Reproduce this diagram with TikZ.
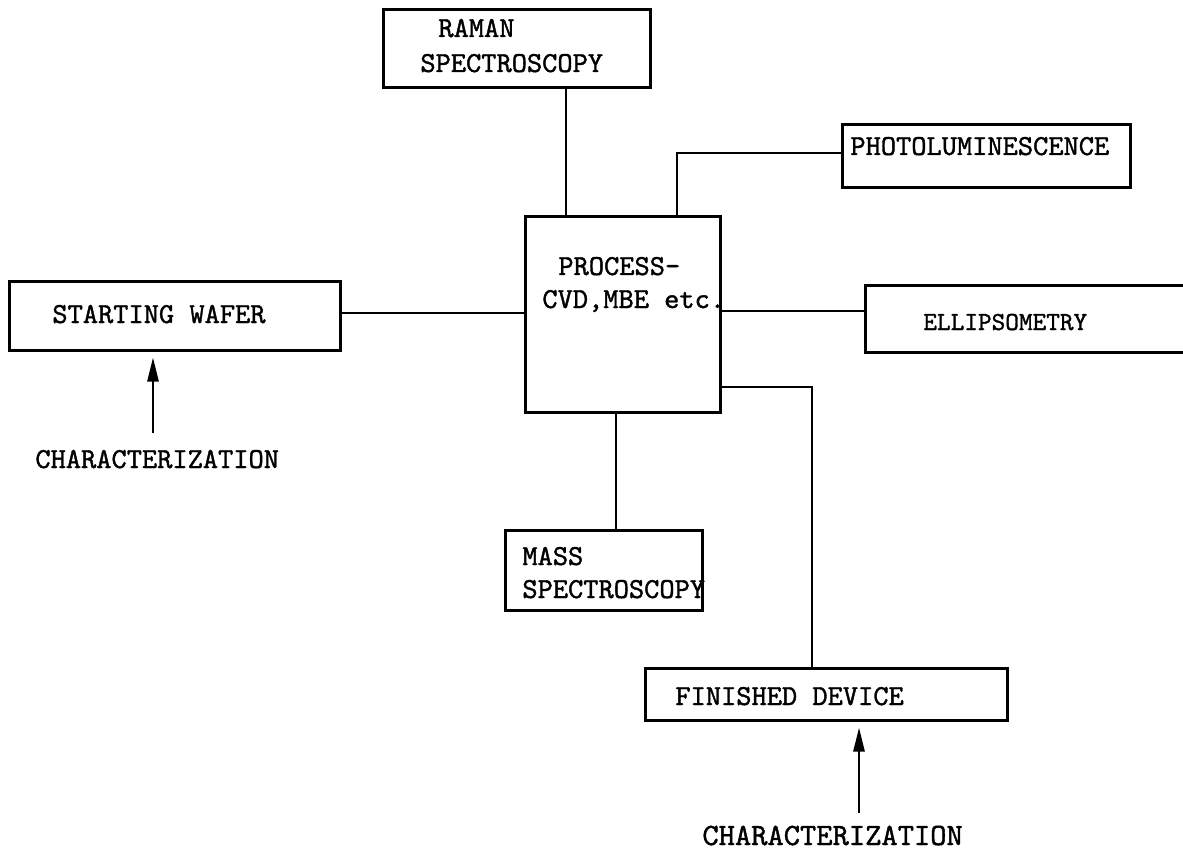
\documentclass[tikz,border=0pt]{standalone}
\usepackage{fontspec}
\newfontfamily\tw{lmmono10-regular}[Extension=.otf,FakeBold=1.3]
\usetikzlibrary{arrows.meta}
\begin{document}
\begin{tikzpicture}[x=0.5pt,y=-0.5pt,
  box/.style={draw,line width=1.5pt,inner sep=0pt},
  conn/.style={line width=1.1pt},
  lbl/.style={inner sep=0pt,anchor=base west,font=\tw\fontsize{14.5}{17}\selectfont},
  arr/.style={line width=1.3pt,-{Triangle[length=12pt,width=5.5pt]}}
]
\useasboundingbox (0,0) rectangle (1183,850);
% boxes
\node[box,minimum width=133.5pt,minimum height=39pt] (raman) at (516.5,49) {};
\node[box,minimum width=144pt,minimum height=31.5pt] (photo) at (986,156.5) {};
\node[box,minimum width=97.5pt,minimum height=97.5pt] (process) at (622.5,314.5) {};
\node[box,minimum width=165.5pt,minimum height=34pt] (wafer) at (174.5,316) {};
\node[box,minimum width=161.5pt,minimum height=33pt] (ellips) at (1026.5,319) {};
\node[box,minimum width=98.5pt,minimum height=40pt] (mass) at (603.5,570) {};
\node[box,minimum width=181pt,minimum height=26pt] (finished) at (826,694) {};
% labels
\node[lbl] (t1) at (438,37) {RAMAN};
\node[lbl] (t2) at (420,72) {SPECTROSCOPY};
\node[lbl] (t3) at (850,155) {PHOTOLUMINESCENCE};
\node[lbl] (t4) at (558,275) {PROCESS-};
\node[lbl] (t5) at (542,308) {CVD,MBE etc.};
\node[lbl] (t6) at (52,323) {STARTING WAFER};
\node[lbl,font=\tw\fontsize{13}{15}\selectfont] (t7) at (923,330) {ELLIPSOMETRY};
\node[lbl] (t8) at (522,565) {MASS};
\node[lbl] (t9) at (522,598) {SPECTROSCOPY};
\node[lbl] (t10) at (675,705) {FINISHED DEVICE};
\node[lbl] (char1) at (35,468) {CHARACTERIZATION};
\node[lbl,font=\tw\fontsize{15.5}{17}\selectfont] (char2) at (702,845) {CHARACTERIZATION};
% connectors
\coordinate (rx) at (566,0);
\draw[conn] (raman.south -| rx) -- (process.north -| rx);
\coordinate (px) at (677,153);
\draw[conn] (process.north -| px) -- (px) -- (photo.west |- px);
\coordinate (wy) at (0,313);
\draw[conn] (wafer.east |- wy) -- (process.west |- wy);
\coordinate (ey) at (0,311);
\draw[conn] (process.east |- ey) -- (ellips.west |- ey);
\coordinate (mx) at (616,0);
\draw[conn] (process.south -| mx) -- (mass.north -| mx);
\coordinate (fc) at (812,387);
\draw[conn] (process.east |- fc) -- (fc) -- (finished.north -| fc);
% characterization arrows
\coordinate (a1) at (153,433);
\draw[arr,shorten >=3pt] (a1) -- (wafer.south -| a1);
\coordinate (a2) at (859,813);
\draw[arr,shorten >=3pt] (a2) -- (finished.south -| a2);
\end{tikzpicture}
\end{document}
